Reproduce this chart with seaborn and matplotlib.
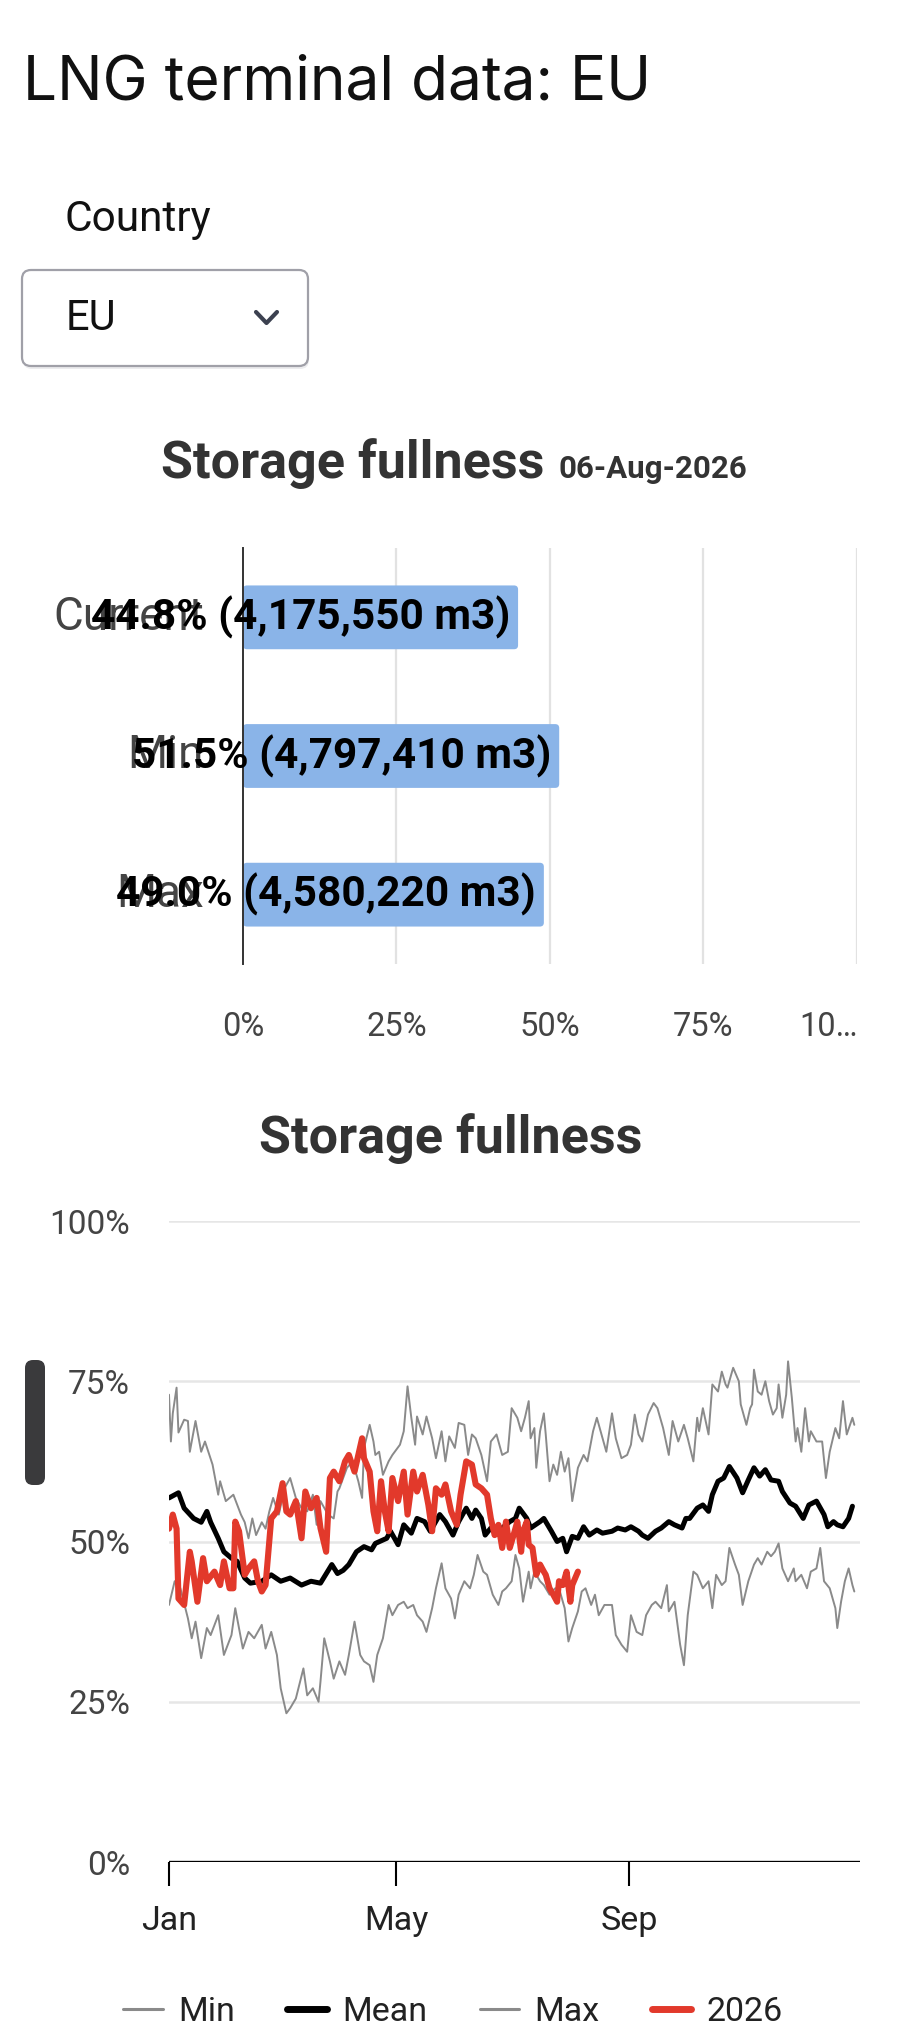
import numpy as np
import pandas as pd
import matplotlib
matplotlib.use("Agg")
import matplotlib.pyplot as plt
import matplotlib.transforms as mtransforms
from matplotlib.patches import FancyBboxPatch
from matplotlib.lines import Line2D
import seaborn as sns

W, H = 904, 2035

# ---- bar chart data ----
bar_labels = ["Current", "Min", "Max"]
bar_pct = [44.8, 51.5, 49.0]
bar_m3 = [4175550, 4797410, 4580220]
report_date = "06-Aug-2026"
bar_ticks = [0, 25, 50, 75, 100]
bar_ticklabels = ["0%", "25%", "50%", "75%", "10\u2026"]

# ---- line chart data (day of year, % full) ----
max_day = [0, 1, 2, 4, 5, 8, 10, 11, 14, 17, 19, 23, 26, 27, 30, 34, 38, 40, 42, 44,
           46, 49, 51, 53, 55, 58, 61, 64, 67, 70, 73, 76, 78, 80, 84, 87, 89,
           90, 94, 97, 100, 102, 103, 106, 108, 109, 111, 113, 116, 118, 122, 124, 126,
           128, 130, 131, 134, 136, 139, 141, 144, 146, 148, 151, 153, 156, 158, 160,
           162, 165, 168, 170, 173, 176, 179, 181,
           184, 186, 188, 190, 191, 193, 194, 196, 198, 199, 201, 203, 205, 207, 209,
           211, 213, 216, 219, 221, 224, 226, 228, 231, 234, 236, 239, 242, 244, 246,
           248, 250, 253, 256, 258, 261, 264, 266, 269, 272, 274,
           277, 279, 280, 282, 285, 287, 290, 292, 294, 295, 298, 301, 302, 305, 307,
           308, 309, 311, 313, 315, 317, 319, 321, 322, 324, 326, 327, 329, 331, 332,
           334, 336, 338, 339, 342, 345, 347, 349, 352, 354, 356, 358, 361, 362]
max_pct = [72.9, 65.6, 70, 74, 67, 69, 68.8, 64, 68.8, 64, 65.6, 62, 57.3, 59.4, 56.3, 57.3, 54.2, 53, 50.5, 53.6,
           51, 53, 52, 54.7, 56.8, 54.2, 58.3, 59.9, 56.8, 55.2, 54.7, 57.3, 52.6, 56.3, 54.2, 53.6, 57.8,
           58.3, 61.5, 62.5, 59.4, 56.8, 64.6, 68.2, 65.6, 63.5, 64, 60.4, 62.5, 63.5, 65.1, 67.2, 74.2,
           69.3, 65.1, 69.5, 66.7, 69.5, 66.1, 63, 67.2, 62.5, 66.4, 64.6, 68.5, 68.2, 63.5, 66.7,
           66.1, 63.5, 59.4, 65.6, 66.7, 63.5, 64, 70.8,
           69.3, 67.2, 69.3, 71.9, 66.1, 67.7, 61.5, 67.2, 70, 66.7, 59.4, 62, 60.4, 64, 60.9,
           63, 56.3, 61.5, 63.5, 62.5, 67.2, 69.3, 67.2, 64, 70, 66.1, 63, 63.5, 65.1, 69.8,
           66.7, 65.6, 69.8, 71.6, 70.8, 67.7, 63.5, 68.8, 65.6, 68.2, 66.1,
           62.5, 69.3, 67.2, 70.8, 66.7, 74.5, 73.4, 76.5, 74.5, 74, 77.1, 75, 71.4, 68.2, 70.8,
           71.4, 76.8, 73.4, 72.9, 75, 71.9, 69.8, 70.8, 74.5, 69.3, 72.9, 78.1, 72.4, 65.6, 67.7,
           64, 70.8, 65.6, 67.2, 65.6, 65.6, 59.9, 64, 67.7, 66.1, 71.9, 66.7, 69.3, 68.2]

mean_day = [0, 5, 8, 13, 17, 20, 22, 26, 29, 33, 36, 40, 43, 49, 54, 59, 64, 70, 75, 80,
            86, 89, 92, 95, 99, 103, 107, 109, 115, 117, 121, 124, 128, 131, 135, 138, 143,
            146, 150, 153, 157, 160, 162, 165, 167, 170, 174, 176, 180, 183, 185, 189, 191,
            196, 198, 202, 205, 208, 210, 213, 216, 219, 222, 226, 229, 234, 237, 241, 244,
            248, 250, 253, 257, 260, 264, 267, 271, 273, 275, 279, 282, 285, 287, 290, 293,
            296, 300, 303, 306, 309, 312, 315, 318, 322, 324, 328, 331, 335, 338, 342, 346,
            348, 351, 353, 356, 359, 361]
mean_pct = [56.8, 57.6, 55.2, 53.6, 53, 54.7, 53, 50.5, 48.4, 47.4, 46.9, 44.3, 43.5, 43.8, 44.8, 43.8, 44.3, 43.2, 43.8, 43.5,
            46.4, 45, 45.5, 46.4, 48.4, 49.2, 48.7, 49.7, 50.5, 51.6, 49.5, 52.6, 51.3, 53.6, 53.1, 51.6, 54.2,
            53.1, 51, 53.1, 55.2, 53.6, 54.9, 53.6, 51, 52.1, 51.6, 52.1, 53.1, 53.6, 55.2, 53.6, 52.1,
            53.1, 53.6, 51.6, 50, 50.5, 48.4, 50.8, 50.5, 52.3, 51, 51.8, 51.3, 51.6, 52.1, 51.8, 52.3,
            51.6, 51, 50.5, 51.6, 52.1, 53.1, 52.6, 52.1, 53.6, 53.6, 55.2, 55.7, 54.7, 57.3, 59.4, 59.9,
            61.7, 59.9, 57.6, 59.6, 61.5, 60.2, 61.2, 59.6, 59.4, 57.8, 56, 55.5, 53.6, 55.7, 56.3, 54.2,
            52.3, 53.1, 52.6, 52.3, 53.6, 55.5]

cur_day = [0, 2, 4, 5, 8, 11, 12, 15, 18, 20, 24, 27, 29, 32, 34, 35, 37, 40, 42, 45,
           47, 49, 51, 54, 57, 60, 62, 64, 67, 70, 72, 75, 78, 80, 83, 85, 87, 90, 93,
           95, 98, 100, 102, 103, 106, 108, 110, 112, 114, 116, 118, 121, 124, 126, 129,
           131, 134, 137, 139, 141, 144, 146, 149, 152, 154, 157, 160, 162, 165, 168, 170,
           172, 174, 176, 178, 180, 182, 184, 186, 187, 189, 190, 192, 194, 196, 198, 199,
           201, 203, 205, 206, 208, 210, 212, 213, 216]
cur_pct = [52, 54.2, 52, 41.1, 40.1, 48.4, 46.9, 40.6, 47.4, 43.8, 45.3, 43.2, 46.9, 42.7, 42.7, 53.1, 51.6, 44.8, 45.8, 46.9,
           43.8, 42.2, 43.2, 53.6, 54.7, 59.1, 54.7, 54.2, 56.3, 50.5, 57.8, 55.2, 56.8, 52.1, 48.4, 59.9, 60.9, 59.4, 62.5,
           63.5, 60.9, 63.5, 66.1, 63, 60.9, 54.7, 51.6, 59.4, 54.7, 51.6, 59.9, 56.3, 60.9, 54.2, 60.9,
           57.8, 60.4, 55.7, 51.6, 58.3, 57.3, 58.9, 54.7, 52.6, 57.3, 62.5, 62, 58.9, 58.3, 57.3, 53.6,
           51, 52.6, 49, 53.1, 49, 51, 53.1, 48.4, 51.6, 53.1, 49.5, 49, 44.8, 46.4, 45.3, 44.8,
           42.7, 41.7, 40.6, 43.8, 43.2, 45.3, 40.6, 43.2, 45.3]

min_day = [0, 3, 6, 10, 12, 14, 17, 20, 22, 26, 29, 33, 35, 39, 42, 45, 49, 51, 54, 57,
           59, 62, 64, 67, 71, 73, 76, 79, 80, 82, 85, 87, 90, 93, 95, 98, 101, 103, 106,
           108, 110, 113, 116, 118, 121, 124, 126, 129, 131, 134, 136, 139, 141, 144, 146,
           149, 151, 153, 156, 159, 161, 163, 166, 168, 171, 174, 176, 178, 181, 183, 185,
           187, 190, 191, 193, 196, 198, 201, 204, 206, 209, 211, 213, 216, 218, 220, 223,
           225, 227, 230, 234, 236, 239, 242, 244, 247, 250, 252, 255, 257, 260, 263, 264,
           267, 270, 272, 274, 277, 279, 282, 285, 287, 289, 292, 294, 296, 299, 301, 303,
           306, 309, 311, 313, 316, 318, 320, 322, 324, 327, 330, 331, 334, 337, 339, 342,
           344, 346, 349, 352, 353, 355, 357, 359, 361, 362]
min_pct = [40.1, 43.8, 42.7, 38, 34.9, 37.5, 31.8, 36.5, 35.4, 38.5, 32.3, 35.4, 39.6, 33.3, 35.9, 34.9, 37, 33.3, 35.9, 32.3,
           27.1, 23.2, 24, 25.5, 30.2, 26, 27.1, 25, 28.1, 34.9, 31.3, 28.6, 31.3, 29.2, 32.3, 37.5, 32.3, 31.3, 30.7,
           28.1, 32.3, 34.9, 40.1, 38.5, 40.1, 40.6, 39.6, 40.1, 38.5, 37.5, 35.9, 39.6, 42.7, 46.6, 42.7,
           41.1, 38, 41.7, 43.8, 42.7, 44.8, 47.9, 45.3, 44.8, 41.7, 40.1, 42.2, 42.7, 43.8, 47.9, 45.8,
           40.6, 45.3, 42.7, 45.3, 43.8, 43.2, 41.7, 42.7, 42.7, 39.6, 34.4, 36.5, 39.1, 42.2, 42.7, 40.1,
           41.7, 38.5, 40.1, 40.1, 35.4, 33.9, 32.8, 38.5, 35.9, 35.4, 38.5, 40.1, 40.6, 39.6, 43.2, 39.1,
           40.6, 33.9, 30.7, 38.5, 45.3, 44.8, 42.7, 43.8, 39.6, 44.8, 43.2, 43.8, 49, 46.4, 44.8, 40.1,
           43.8, 46.4, 47.4, 46.4, 48.4, 47.7, 48.4, 49.7, 45.8, 43.8, 45.8, 43.8, 44.8, 42.7, 45.3, 45.8,
           49, 43.8, 42.7, 39.6, 36.5, 40.6, 43.8, 45.8, 43.2, 42.2]

series_names = ["Min", "Mean", "Max", "2026"]
series_colors = {"Min": "#8a8a8a", "Mean": "#000000", "Max": "#8a8a8a", "2026": "#e2392b"}
series_widths = {"Min": 1.4, "Mean": 3.6, "Max": 1.4, "2026": 4.4}
legend_widths = {"Min": 2.2, "Mean": 5.0, "Max": 2.2, "2026": 5.0}
month_ticks = ["2026-01-01", "2026-05-01", "2026-09-01"]
month_labels = ["Jan", "May", "Sep"]
line_yticks = [0, 25, 50, 75, 100]

base = pd.Timestamp("2026-01-01")
frames = []
for name, d, v in [("Min", min_day, min_pct), ("Mean", mean_day, mean_pct),
                   ("Max", max_day, max_pct), ("2026", cur_day, cur_pct)]:
    frames.append(pd.DataFrame({"date": base + pd.to_timedelta(d, unit="D"),
                                "pct": v, "series": name}))
lines = pd.concat(frames, ignore_index=True)
bars = pd.DataFrame({"label": bar_labels, "pct": bar_pct, "m3": bar_m3})

sns.set_theme(style="white")
plt.rcParams["font.family"] = ["Roboto", "DejaVu Sans"]

fig = plt.figure(figsize=(W / 100, H / 100), dpi=100)
fig.patch.set_facecolor("white")
px = mtransforms.IdentityTransform()


def fx(x):
    return x / W


def fy(y):
    return 1 - y / H


# ---- page header ----
fig.text(fx(23), fy(84), "LNG terminal data: EU", family=["Inter", "DejaVu Sans"],
         fontsize=43.5, va="center", ha="left", color="#111111")
fig.text(fx(65), fy(219), "Country", fontsize=30.5, va="center", ha="left", color="#111111")
# dropdown box with a faint drop shadow
fig.add_artist(FancyBboxPatch((23, H - 369), 286, 96, boxstyle="round,pad=0,rounding_size=9",
                              transform=px, facecolor="#ececee", edgecolor="none"))
fig.add_artist(FancyBboxPatch((22, H - 366), 286, 96, boxstyle="round,pad=0,rounding_size=9",
                              transform=px, facecolor="white", edgecolor="#a0a0a8", lw=1.6))
fig.text(fx(66), fy(319), "EU", fontsize=30, va="center", ha="left", color="#111111")
fig.add_artist(Line2D([256, 266.5, 277], [H - 312, H - 323, H - 312], transform=px,
                      color="#3c4150", lw=3, solid_capstyle="round", solid_joinstyle="round"))

# ---- bar chart ----
fig.text(fx(161), fy(464), "Storage fullness", fontsize=37.5, fontweight="bold",
         va="center", ha="left", color="#333333")
fig.text(fx(559), fy(469), report_date, fontsize=22.5, fontweight="bold",
         va="center", ha="left", color="#333333")

ax1 = fig.add_axes([fx(243), fy(964), 614 / W, 416 / H])
sns.barplot(data=bars, x="pct", y="label", orient="h", color="#8ab4e8",
            saturation=1, width=0.46, ax=ax1, zorder=2)
# give the bars slightly rounded corners (about 4 px)
x_per_px = 100 / 614
y_per_px = 3 / 416
for bar in list(ax1.patches):
    rounded = FancyBboxPatch((bar.get_x(), bar.get_y()), bar.get_width(), bar.get_height(),
                             boxstyle=f"round,pad=0,rounding_size={4 * x_per_px}",
                             mutation_aspect=y_per_px / x_per_px,
                             facecolor=bar.get_facecolor(), edgecolor="none", zorder=2)
    bar.remove()
    ax1.add_patch(rounded)
ax1.set_xlim(0, 100)
ax1.set_ylim(2.5, -0.5)
ax1.set_xticks(bar_ticks)
ax1.set_xticklabels(bar_ticklabels)
for t in bar_ticks[1:]:
    ax1.axvline(t, color="#e2e2e2", lw=1.6, zorder=0)
for s in ["top", "right", "bottom"]:
    ax1.spines[s].set_visible(False)
ax1.spines["left"].set_color("#333333")
ax1.spines["left"].set_linewidth(1.4)
ax1.spines["left"].set_zorder(3)
ax1.set_xlabel("")
ax1.set_ylabel("")
ax1.tick_params(axis="x", length=0, pad=34, labelsize=23.5, labelcolor="#444444")
ax1.tick_params(axis="y", length=0, pad=28, labelsize=33, labelcolor="#444444")
# the truncated "100%" label sits pulled in from the right edge
last = ax1.get_xticklabels()[-1]
last.set_transform(last.get_transform() + mtransforms.ScaledTranslation(-0.28, 0, fig.dpi_scale_trans))
for lbl in ax1.get_yticklabels():
    lbl.set_transform(lbl.get_transform() + mtransforms.ScaledTranslation(0, 0.05, fig.dpi_scale_trans))
for i, row in bars.iterrows():
    ax1.text(row["pct"] - 1.3, i, f"{row['pct']:.1f}% ({row['m3']:,} m3)",
             ha="right", va="center", fontsize=30.5, fontweight="bold", color="black", zorder=4)

# ---- line chart ----
fig.text(fx(451), fy(1139), "Storage fullness", fontsize=37.5, fontweight="bold",
         va="center", ha="center", color="#333333")

ax2 = fig.add_axes([fx(169), fy(1862), 691 / W, 641 / H])
for t in line_yticks[1:]:
    ax2.axhline(t, color="#e6e6e6", lw=1.8, zorder=0)
for name in series_names:
    sns.lineplot(data=lines[lines["series"] == name], x="date", y="pct",
                 color=series_colors[name], lw=series_widths[name], ax=ax2,
                 legend=False, zorder=2)
ax2.axhline(0, color="black", lw=2.4, zorder=3)
ax2.set_ylim(0, 100)
ax2.set_xlim(pd.Timestamp("2026-01-01"), pd.Timestamp("2027-01-01"))
ax2.set_yticks(line_yticks)
ax2.set_yticklabels([f"{t}%" for t in line_yticks])
ax2.set_xticks(pd.to_datetime(month_ticks))
ax2.set_xticklabels(month_labels)
for s in ax2.spines.values():
    s.set_visible(False)
ax2.set_xlabel("")
ax2.set_ylabel("")
ax2.tick_params(axis="y", length=0, pad=28, labelsize=24, labelcolor="#444444")
ax2.tick_params(axis="x", direction="out", length=17, width=1.5, color="black",
                pad=14, labelsize=24.5, labelcolor="#222222", bottom=True)

handles = [Line2D([], [], color=series_colors[n], lw=legend_widths[n], solid_capstyle="round")
           for n in series_names]
fig.legend(handles, series_names, loc="center", bbox_to_anchor=(fx(453), fy(2012)), ncol=4,
           frameon=False, fontsize=24.5, handlelength=1.15, handletextpad=0.45, columnspacing=1.55,
           labelcolor="#222222")

# scrollbar drawn in the screenshot
fig.add_artist(FancyBboxPatch((25, H - 1485), 20, 125, boxstyle="round,pad=0,rounding_size=8",
                              transform=px, facecolor="#3a3a3c", edgecolor="none"))

fig.savefig("out.png", dpi=100, facecolor="white")
